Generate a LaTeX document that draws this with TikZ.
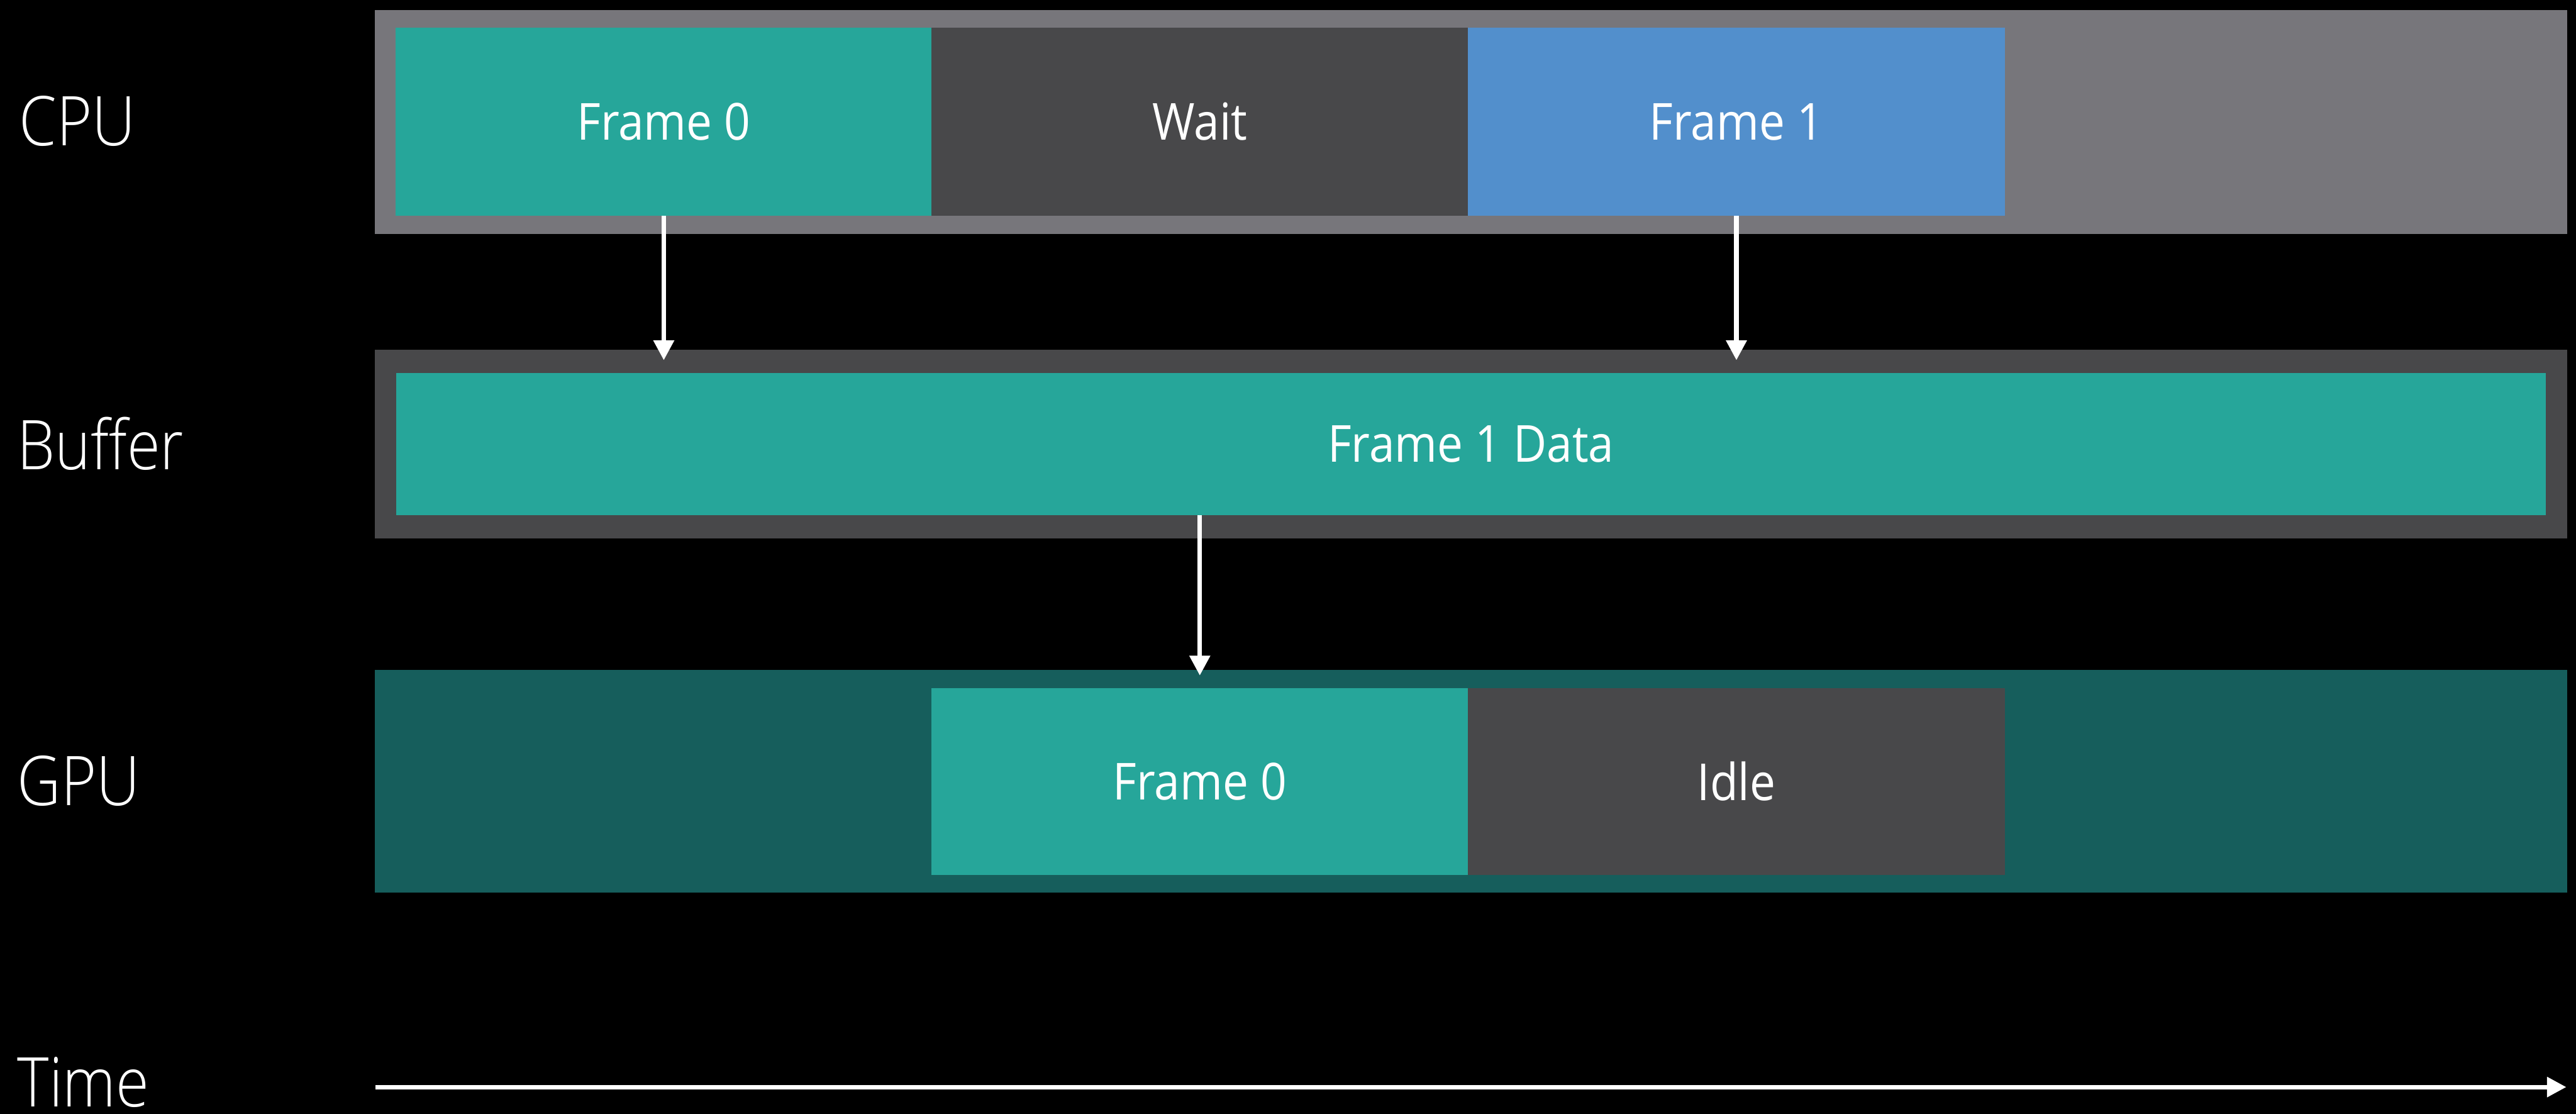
\documentclass[tikz,border=0pt]{standalone}
\usepackage{fontspec}
\setmainfont{Open Sans}
\newfontfamily\rowfont{Open Sans Light}[FakeStretch=0.88]
\newfontfamily\boxfont{Open Sans}[FakeStretch=0.9]
\usetikzlibrary{arrows.meta}

\definecolor{bandgray}{HTML}{77767B}
\definecolor{slate}{HTML}{48484A}
\definecolor{tealfill}{HTML}{26A69A}
\definecolor{blueframe}{HTML}{528FCC}
\definecolor{gpuband}{HTML}{165E5C}

\begin{document}
\begin{tikzpicture}[x=1cm,y=1cm,
  band/.style={anchor=north west, inner sep=0pt, outer sep=0pt, minimum width=38.52cm},
  blk/.style={anchor=north west, inner sep=0pt, outer sep=0pt, text=white,
    font=\boxfont\fontsize{25.5}{30}\selectfont},
  slot/.style={blk, minimum width=9.43cm},
  rowlabel/.style={anchor=west, inner sep=0pt, text=white,
    font=\rowfont\fontsize{34.3}{40}\selectfont},
  flow/.style={draw=white, line width=0.08cm, -{Triangle[length=0.35cm,width=0.35cm]}}]

% page background
\fill[black] (0,0) rectangle (45.27,-19.57);
\useasboundingbox (0,0) rectangle (45.27,-19.57);

% CPU lane
\node[band, fill=bandgray, minimum height=3.93cm] (cpu) at (6.59,-0.18) {};
\node[slot, fill=tealfill, minimum height=3.30cm] (f0) at (6.95,-0.49) {Frame 0};
\node[slot, fill=slate, minimum height=3.30cm] (wait) at (16.37,-0.49) {Wait};
\node[slot, fill=blueframe, minimum height=3.30cm] (f1) at (25.80,-0.49) {Frame 1};

% Buffer lane
\node[band, fill=slate, minimum height=3.32cm] (buf) at (6.59,-6.14) {};
\node[blk, fill=tealfill, minimum width=37.78cm, minimum height=2.50cm] (data) at (6.96,-6.55) {Frame 1 Data};

% GPU lane
\node[band, fill=gpuband, minimum height=3.91cm] (gpu) at (6.59,-11.77) {};
\node[slot, fill=tealfill, minimum height=3.28cm] (g0) at (16.37,-12.09) {Frame 0};
\node[slot, fill=slate, minimum height=3.28cm] (idle) at (25.80,-12.09) {Idle};

% row labels
\node[rowlabel] (lcpu) at (0.33,-2.13) {CPU};
\node[rowlabel] (lbuf) at (0.30,-7.80) {Buffer};
\node[rowlabel] (lgpu) at (0.30,-13.72) {GPU};
\node[rowlabel] (ltime) at (0.30,-19.01) {Time};

% data flow
\draw[flow, shorten >=-0.19cm] (f0.south) -- (f0.south |- buf.north);
\draw[flow, shorten >=-0.19cm] (f1.south) -- (f1.south |- buf.north);
\draw[flow, shorten >=-0.10cm] (g0.north |- data.south) -- (g0.north |- gpu.north);

% time axis
\coordinate (t0) at (6.60,-19.10);
\coordinate (t1) at (45.10,-19.10);
\draw[flow, -{Triangle[length=0.34cm,width=0.34cm]}] (t0) -- (t1);
\end{tikzpicture}
\end{document}
